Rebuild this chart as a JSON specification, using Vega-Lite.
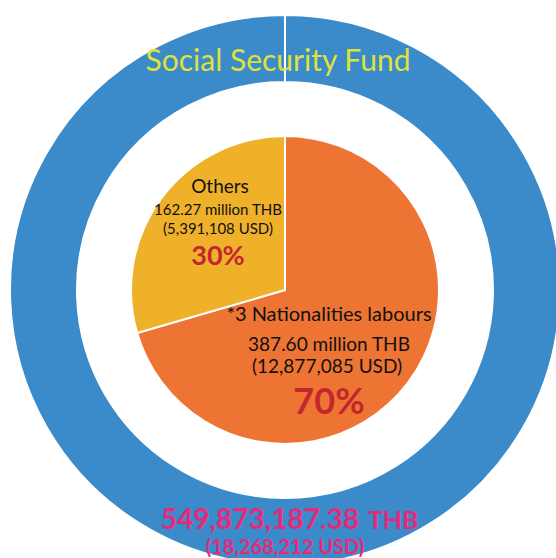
{
  "$schema": "https://vega.github.io/schema/vega-lite/v6.json",
  "width": 542,
  "height": 536,
  "padding": {"left": 14, "top": 22, "right": 0, "bottom": 0},
  "autosize": {"type": "none"},
  "background": "white",
  "config": {"view": {"stroke": null}},
  "title": {
    "text": "Social Security Fund",
    "orient": "top",
    "anchor": "middle",
    "frame": "group",
    "offset": -48,
    "baseline": "alphabetic",
    "font": "Lato",
    "fontSize": 30,
    "fontWeight": "normal",
    "color": "#dfe23a",
    "dx": -7,
    "dy": 42
  },
  "datasets": {
    "ring": [
      {"part": "Total", "value": 549.87, "amount": "549,873,187.38", "unit": "THB", "usd": "(18,268,212 USD)"}
    ],
    "pie": [
      {"group": "3 Nationalities labours", "value": 387.60, "line1": "*3 Nationalities labours", "line2": "387.60 million THB", "line3": "(12,877,085 USD)", "line4": "70%"},
      {"group": "Others", "value": 162.27, "line1": "Others", "line2": "162.27 million THB", "line3": "(5,391,108 USD)", "line4": "30%"}
    ]
  },
  "layer": [
    {
      "data": {"name": "ring"},
      "mark": {"type": "arc", "radius": 275, "radius2": 208, "color": "#3b8bca", "stroke": "white", "strokeWidth": 2},
      "encoding": {
        "theta": {"field": "value", "type": "quantitative", "scale": {"domain": [0, 549.88]}}
      }
    },
    {
      "data": {"name": "pie"},
      "mark": {"type": "arc", "radius": 154, "stroke": "white", "strokeWidth": 2},
      "encoding": {
        "theta": {"field": "value", "type": "quantitative", "scale": {"domain": [0, 549.88]}},
        "order": {"field": "group", "sort": "ascending"},
        "color": {"field": "group", "type": "nominal", "scale": {"domain": ["3 Nationalities labours", "Others"], "range": ["#ee7434", "#efb02a"]}, "legend": null}
      }
    },
    {
      "data": {"name": "pie"},
      "mark": {"type": "text", "radius": 90, "align": "center", "baseline": "alphabetic", "font": "Lato", "fontSize": 19, "color": "#111111", "dx": 7, "dy": -43},
      "encoding": {
        "theta": {"field": "value", "type": "quantitative", "stack": true, "scale": {"domain": [0, 549.88]}},
        "order": {"field": "group", "sort": "ascending"},
        "text": {"condition": {"test": "datum.group === 'Others'", "field": "line1"}, "value": ""}
      }
    },
    {
      "data": {"name": "pie"},
      "mark": {"type": "text", "radius": 90, "align": "center", "baseline": "alphabetic", "font": "Lato", "fontSize": 15, "color": "#111111", "dx": 5, "dy": -21},
      "encoding": {
        "theta": {"field": "value", "type": "quantitative", "stack": true, "scale": {"domain": [0, 549.88]}},
        "order": {"field": "group", "sort": "ascending"},
        "text": {"condition": {"test": "datum.group === 'Others'", "field": "line2"}, "value": ""}
      }
    },
    {
      "data": {"name": "pie"},
      "mark": {"type": "text", "radius": 90, "align": "center", "baseline": "alphabetic", "font": "Lato", "fontSize": 15, "color": "#111111", "dx": 5, "dy": -2},
      "encoding": {
        "theta": {"field": "value", "type": "quantitative", "stack": true, "scale": {"domain": [0, 549.88]}},
        "order": {"field": "group", "sort": "ascending"},
        "text": {"condition": {"test": "datum.group === 'Others'", "field": "line3"}, "value": ""}
      }
    },
    {
      "data": {"name": "pie"},
      "mark": {"type": "text", "radius": 90, "align": "center", "baseline": "alphabetic", "font": "Lato", "fontSize": 27, "fontWeight": "bold", "color": "#c3272d", "dx": 5, "dy": 29},
      "encoding": {
        "theta": {"field": "value", "type": "quantitative", "stack": true, "scale": {"domain": [0, 549.88]}},
        "order": {"field": "group", "sort": "ascending"},
        "text": {"condition": {"test": "datum.group === 'Others'", "field": "line4"}, "value": ""}
      }
    },
    {
      "data": {"name": "pie"},
      "mark": {"type": "text", "radius": 90, "align": "center", "baseline": "alphabetic", "font": "Lato", "fontSize": 20, "color": "#111111", "dx": -28, "dy": -23},
      "encoding": {
        "theta": {"field": "value", "type": "quantitative", "stack": true, "scale": {"domain": [0, 549.88]}},
        "order": {"field": "group", "sort": "ascending"},
        "text": {"condition": {"test": "datum.group !== 'Others'", "field": "line1"}, "value": ""}
      }
    },
    {
      "data": {"name": "pie"},
      "mark": {"type": "text", "radius": 90, "align": "center", "baseline": "alphabetic", "font": "Lato", "fontSize": 19, "color": "#111111", "dx": -28, "dy": 7},
      "encoding": {
        "theta": {"field": "value", "type": "quantitative", "stack": true, "scale": {"domain": [0, 549.88]}},
        "order": {"field": "group", "sort": "ascending"},
        "text": {"condition": {"test": "datum.group !== 'Others'", "field": "line2"}, "value": ""}
      }
    },
    {
      "data": {"name": "pie"},
      "mark": {"type": "text", "radius": 90, "align": "center", "baseline": "alphabetic", "font": "Lato", "fontSize": 19, "color": "#111111", "dx": -30, "dy": 29},
      "encoding": {
        "theta": {"field": "value", "type": "quantitative", "stack": true, "scale": {"domain": [0, 549.88]}},
        "order": {"field": "group", "sort": "ascending"},
        "text": {"condition": {"test": "datum.group !== 'Others'", "field": "line3"}, "value": ""}
      }
    },
    {
      "data": {"name": "pie"},
      "mark": {"type": "text", "radius": 90, "align": "center", "baseline": "alphabetic", "font": "Lato", "fontSize": 36, "fontWeight": "bold", "color": "#c3272d", "dx": -28, "dy": 70},
      "encoding": {
        "theta": {"field": "value", "type": "quantitative", "stack": true, "scale": {"domain": [0, 549.88]}},
        "order": {"field": "group", "sort": "ascending"},
        "text": {"condition": {"test": "datum.group !== 'Others'", "field": "line4"}, "value": ""}
      }
    },
    {
      "data": {"name": "ring"},
      "mark": {"type": "text", "radius": 239, "align": "center", "baseline": "alphabetic", "font": "Lato", "fontSize": 28, "fontWeight": "bold", "color": "#e8297a", "dx": -25},
      "encoding": {
        "theta": {"field": "value", "type": "quantitative", "stack": true, "scale": {"domain": [0, 549.88]}},
        "text": {"field": "amount", "type": "nominal"}
      }
    },
    {
      "data": {"name": "ring"},
      "mark": {"type": "text", "radius": 239, "align": "center", "baseline": "alphabetic", "font": "Lato", "fontSize": 25, "fontWeight": "bold", "color": "#e8297a", "dx": 108},
      "encoding": {
        "theta": {"field": "value", "type": "quantitative", "stack": true, "scale": {"domain": [0, 549.88]}},
        "text": {"field": "unit", "type": "nominal"}
      }
    },
    {
      "data": {"name": "ring"},
      "mark": {"type": "text", "radius": 264, "align": "center", "baseline": "alphabetic", "font": "Lato", "fontSize": 20, "fontWeight": "bold", "color": "#e8297a", "dx": 0},
      "encoding": {
        "theta": {"field": "value", "type": "quantitative", "stack": true, "scale": {"domain": [0, 549.88]}},
        "text": {"field": "usd", "type": "nominal"}
      }
    }
  ]
}
